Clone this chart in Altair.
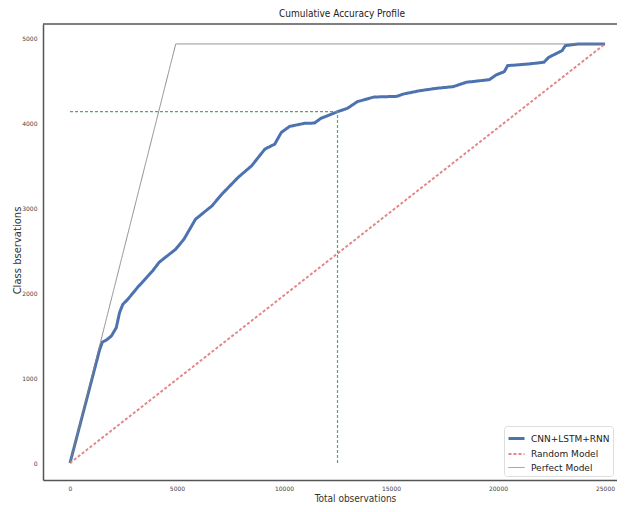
import altair as alt
import pandas as pd

# ---- data ----
model_x = [0, 1389, 1514, 1699, 1931, 2162, 2315, 2468, 2699, 3162, 3856, 4167,
           4940, 5324, 5866, 6634, 7097, 7870, 8486, 9106, 9569, 9875, 10264,
           10958, 11421, 11727, 12500, 12963, 13426, 14199, 15278, 15588, 16356,
           17130, 17903, 18519, 19597, 19907, 20292, 20449, 21449, 22144, 22375,
           22995, 23148, 23764, 25000]
model_y = [0, 1340, 1426, 1450, 1497, 1596, 1773, 1871, 1930, 2072, 2264, 2367,
           2521, 2639, 2875, 3032, 3170, 3371, 3504, 3701, 3760, 3898, 3969,
           4005, 4008, 4064, 4142, 4182, 4260, 4315, 4323, 4351, 4390,
           4418, 4437, 4489, 4520, 4575, 4614, 4685, 4705, 4725, 4784,
           4862, 4921, 4941, 4941]
random_x = [0, 25000]
random_y = [0, 4941]
perfect_x = [0, 4941, 25000]
perfect_y = [0, 4941, 4941]
guide_h_x = [0, 12500]
guide_h_y = [4142, 4142]
guide_v_x = [12500, 12500]
guide_v_y = [0, 4142]

series_names = ["CNN+LSTM+RNN", "Random Model", "Perfect Model"]
x_ticks = [0, 5000, 10000, 15000, 20000, 25000]
y_ticks = [0, 1000, 2000, 3000, 4000, 5000]

rows = []
for name, xs, ys in [(series_names[0], model_x, model_y),
                     (series_names[1], random_x, random_y),
                     (series_names[2], perfect_x, perfect_y)]:
    for i, (a, b) in enumerate(zip(xs, ys)):
        rows.append({"series": name, "x": a, "y": b, "i": i})
df = pd.DataFrame(rows)

grows = []
for g, xs, ys in [("h", guide_h_x, guide_h_y), ("v", guide_v_x, guide_v_y)]:
    for i, (a, b) in enumerate(zip(xs, ys)):
        grows.append({"g": g, "x": a, "y": b, "i": i})
gdf = pd.DataFrame(grows)

W, H = 574, 456
xscale = alt.Scale(domain=[-1262, 25560], nice=False, zero=False)
yscale = alt.Scale(domain=[-200, 5176], nice=False, zero=False)

xaxis = alt.Axis(values=x_ticks, format="d", title="Total observations",
                 titleX=312, titleY=18, titleBaseline="middle", titleAlign="center")
yaxis = alt.Axis(values=y_ticks, format="d", title="Class bservations",
                 titleX=-26, titleY=226, titleAngle=-90, titleAlign="center",
                 titleBaseline="middle")

guides = alt.Chart(gdf).mark_line().encode(
    x=alt.X("x:Q", scale=xscale, axis=xaxis),
    y=alt.Y("y:Q", scale=yscale, axis=yaxis),
    detail="g:N",
    order="i:Q",
    color=alt.value("#55a868"),
    strokeDash=alt.value([3, 2]),
    strokeWidth=alt.value(1.2),
)

lines = alt.Chart(df).mark_line().encode(
    x=alt.X("x:Q", scale=xscale, axis=xaxis),
    y=alt.Y("y:Q", scale=yscale, axis=yaxis),
    color=alt.Color("series:N", title=None,
                    scale=alt.Scale(domain=series_names,
                                    range=["#4c72b0", "#e38689", "#808080"]),
                    sort=series_names),
    strokeDash=alt.StrokeDash("series:N", title=None,
                              scale=alt.Scale(domain=series_names,
                                              range=[[1, 0], [3, 2], [1, 0]]),
                              sort=series_names),
    strokeWidth=alt.StrokeWidth("series:N", title=None,
                                scale=alt.Scale(domain=series_names,
                                                range=[3, 0.9, 1.3]),
                                sort=series_names),
    order="i:Q",
)

top_spine = alt.Chart(pd.DataFrame({"a": [0]})).mark_rule(color="#555555", strokeWidth=1.5).encode(
    x=alt.value(0), x2=alt.value(W), y=alt.value(0)
)

chart = alt.layer(lines, guides, top_spine).properties(
    width=W, height=H,
    title=alt.TitleParams("Cumulative Accuracy Profile",
                          font="Liberation Sans Narrow, DejaVu Sans Condensed, Liberation Sans",
                          fontSize=10, fontWeight="normal", color="#222222", offset=4,
                          dx=12),
    autosize=alt.AutoSizeParams(type="none"),
    padding={"left": 35, "top": 16, "right": 0, "bottom": 24},
).configure_view(stroke=None).configure_axis(
    grid=False, ticks=False, domainColor="#555555", domainWidth=1.5,
    labelFont="DejaVu Sans", labelFontSize=6, labelColor="#444444",
    labelPadding=5, titleFont="DejaVu Sans", titleFontWeight="normal",
    titleColor="#333333",
).configure_axisY(
    titleFontSize=10, labelPadding=6,
).configure_axisX(
    titleFontSize=10, labelPadding=5,
    titleFont="Liberation Sans Narrow, DejaVu Sans Condensed, Liberation Sans",
).configure_legend(
    orient="bottom-right", offset=4, padding=3, fillColor="white",
    strokeColor="#dddddd", cornerRadius=3, labelFont="DejaVu Sans",
    labelFontSize=9, labelColor="#222222", symbolType="stroke", symbolSize=256,
    rowPadding=0, labelOffset=5, symbolStrokeWidth=2,
)

chart.save("out.html", embed_options={"renderer": "svg", "actions": False})
